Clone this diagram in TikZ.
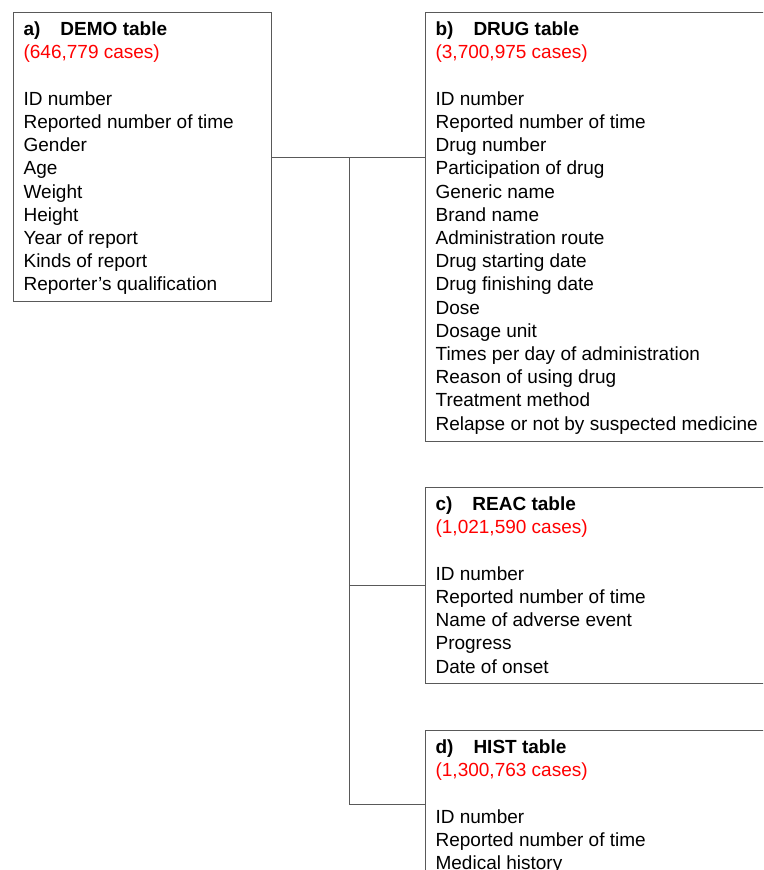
\documentclass[tikz,border=0pt]{standalone}
\usepackage{fontspec}
\setmainfont{Liberation Sans}
\tikzset{
  tablebox/.style={draw=black!65, line width=1.2pt, anchor=north west,
    inner xsep=10pt, inner ysep=0pt, font=\fontsize{19}{23.2}\selectfont, text=black},
  link/.style={draw=black!65, line width=1.1pt},
}
\newcommand{\tbl}[5]{\parbox[c][#1][t]{#2}{\raggedright\vspace*{6.8pt}\strut\textbf{#3}\\\textcolor{red}{#4}\\\mbox{}\\#5}}
\begin{document}
\begin{tikzpicture}[x=1pt,y=-1pt]
\useasboundingbox (0,0) rectangle (763,870);
\clip (0,0) rectangle (763,870);
\node[tablebox] (demo) at (13,12) {\tbl{289pt}{238pt}{a)\hspace{20pt}DEMO table}{(646,779 cases)}{ID number\\Reported number of time\\Gender\\Age\\Weight\\Height\\Year of report\\Kinds of report\\Reporter’s qualification}};
\node[tablebox] (drug) at (425,12) {\tbl{429pt}{380pt}{b)\hspace{20pt}DRUG table}{(3,700,975 cases)}{ID number\\Reported number of time\\Drug number\\Participation of drug\\Generic name\\Brand name\\Administration route\\Drug starting date\\Drug finishing date\\Dose\\Dosage unit\\Times per day of administration\\Reason of using drug\\Treatment method\\Relapse or not by suspected medicine}};
\node[tablebox] (reac) at (425,487) {\tbl{196pt}{380pt}{c)\hspace{20pt}REAC table}{(1,021,590 cases)}{ID number\\Reported number of time\\Name of adverse event\\Progress\\Date of onset}};
\node[tablebox] (hist) at (425,730) {\tbl{148pt}{380pt}{d)\hspace{20pt}HIST table}{(1,300,763 cases)}{ID number\\Reported number of time\\Medical history}};
\coordinate (jx) at (349.5,0);
\coordinate (j) at (demo.east -| jx);
\draw[link] (demo.east) -- (demo.east -| drug.west);
\draw[link] (j) |- (hist.west);
\draw[link] (j |- reac.west) -- (reac.west);
\end{tikzpicture}
\end{document}
